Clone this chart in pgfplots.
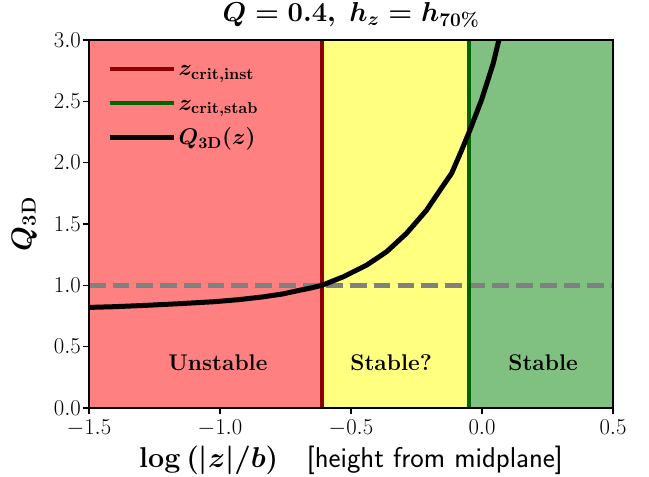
\RequirePackage{fix-cm}
\documentclass[border=0pt]{standalone}
\usepackage{bm}
\usepackage{pgfplots}
\usepackage{pgfplotstable}
\pgfplotsset{compat=1.18}

\definecolor{regred}{HTML}{FF8080}
\definecolor{regyellow}{HTML}{FFFF80}
\definecolor{reggreen}{HTML}{80C080}
\definecolor{critred}{HTML}{8B0000}
\definecolor{critgreen}{HTML}{006400}

% Q_3D as a function of log(|z|/b)
\pgfplotstableread{
x      q
-1.500 0.820
-1.400 0.826
-1.280 0.837
-1.150 0.851
-1.026 0.866
-0.930 0.883
-0.835 0.906
-0.760 0.930
-0.700 0.958
-0.650 0.980
-0.611 1.000
-0.529 1.070
-0.440 1.165
-0.364 1.274
-0.288 1.424
-0.211 1.614
-0.160 1.777
-0.116 1.913
-0.078 2.100
-0.046 2.266
-0.002 2.510
 0.043 2.810
 0.070 3.050
}\qthreed

\newcommand{\bfm}[1]{{\boldmath$#1$}}

\begin{document}
\begin{tikzpicture}
\begin{axis}[
  name=ax,
  scale only axis,
  width=393pt, height=276pt,
  xmin=-1.5, xmax=0.5, ymin=0, ymax=3,
  xtick={-1.5,-1,-0.5,0,0.5},
  ytick={0,0.5,1,1.5,2,2.5,3},
  xticklabel style={inner ysep=4pt, /pgf/number format/.cd, fixed, fixed zerofill, precision=1},
  yticklabel style={inner xsep=1.2pt, /pgf/number format/.cd, fixed, fixed zerofill, precision=1},
  ticklabel style={font=\fontsize{17}{20}\selectfont},
  tick pos=left, tick align=outside,
  major tick length=4.7pt,
  tick style={black, line width=1pt},
  axis line style={line width=1.5pt},
  axis on top,
  title={\bfm{Q=0.4,\ h_z=h_{70\%}}},
  title style={font=\fontsize{20.5}{24}\selectfont, at={(axis description cs:0.5,1.028)}, anchor=base},
  xlabel={\bfm{\log\left(|z|/b\right)}\quad\textsf{[height from midplane]}},
  xlabel style={font=\fontsize{21.5}{25}\selectfont, at={(axis description cs:0.5,-0.163)}, anchor=base},
  ylabel={\bfm{Q_{\mathrm{3D}}}},
  ylabel style={font=\fontsize{21.5}{25}\selectfont, at={(axis description cs:-0.11,0.5)}, anchor=base},
  legend style={draw=none, fill=none, at={(axis description cs:0,1)}, anchor=north west,
    font=\fontsize{17}{20}\selectfont, row sep=4.9pt,
    inner xsep=13.3pt, inner ysep=10.7pt,
    nodes={inner sep=2pt, text height=14pt, text depth=3pt}},
  legend cell align=left,
  legend image code/.code={\draw[#1] (0pt,0pt) -- (37.5pt,0pt); \path (0pt,0pt) -- (48pt,0pt);},
]
% stability regions
\addplot[draw=none, fill=regred, forget plot] coordinates {(-1.5,0) (-0.611,0) (-0.611,3) (-1.5,3)};
\addplot[draw=none, fill=regyellow, forget plot] coordinates {(-0.611,0) (-0.050,0) (-0.050,3) (-0.611,3)};
\addplot[draw=none, fill=reggreen, forget plot] coordinates {(-0.050,0) (0.5,0) (0.5,3) (-0.050,3)};
% Q_3D = 1
\addplot[gray, line width=3.4pt, dash pattern=on 12.5pt off 5.3pt, forget plot] coordinates {(-1.5,1) (0.5,1)};
% critical heights
\addplot[critred, line width=3pt] coordinates {(-0.611,0) (-0.611,3)};
\addlegendentry{\bfm{z_{\mathrm{crit,inst}}}}
\addplot[critgreen, line width=3pt] coordinates {(-0.050,0) (-0.050,3)};
\addlegendentry{\bfm{z_{\mathrm{crit,stab}}}}
\addplot[black, line width=3.75pt] table[x=x, y=q] {\qthreed};
\addlegendentry{\bfm{Q_{\mathrm{3D}}(z)}}

\node[font=\fontsize{17}{20}\selectfont\bfseries] at (axis cs:-1.008,0.367) {Unstable};
\node[font=\fontsize{17}{20}\selectfont\bfseries] at (axis cs:-0.347,0.367) {Stable?};
\node[font=\fontsize{17}{20}\selectfont\bfseries] at (axis cs:0.233,0.367) {Stable};
\end{axis}
\pgfresetboundingbox
\path (ax.south west) ++(-66.75pt,-51.75pt) rectangle ++(486.75pt,357.75pt);
\end{tikzpicture}
\end{document}
